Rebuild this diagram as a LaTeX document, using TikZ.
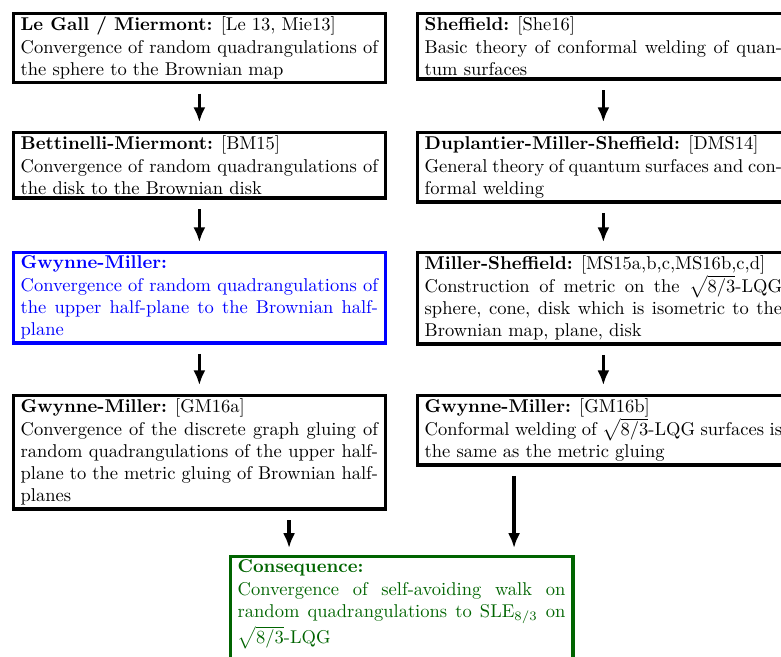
\documentclass[tikz,border=0pt]{standalone}
\usetikzlibrary{arrows.meta,calc}
\definecolor{dgreen}{RGB}{0,100,0}
\definecolor{bblue}{RGB}{0,0,255}
\begin{document}
\begin{tikzpicture}[x=0.54pt,y=-0.54pt,
  box/.style={draw,line width=1.9pt,anchor=north west,text width=193pt,
    inner xsep=4pt,inner ysep=2pt,align=justify},
  arr/.style={line width=1.7pt,-{Latex[length=8pt,width=6.5pt]}}]
\useasboundingbox (0,0) rectangle (781,657);
\clip (0,0) rectangle (781,657);

\node[box] (a1) at (11.5,11.5) {\textbf{Le Gall / Miermont:} [Le 13, Mie13]\\Convergence of random quadrangulations of the sphere to the Brownian map};
\node[box] (a2) at (11.5,130.5) {\textbf{Bettinelli-Miermont:} [BM15]\\Convergence of random quadrangulations of the disk to the Brownian disk};
\node[box,draw=bblue,text=bblue] (a3) at (11.5,250.5) {\textbf{Gwynne-Miller:}\\Convergence of random quadrangulations of the upper half-plane to the Brownian half-plane};
\node[box] (a4) at (11.5,393.5) {\textbf{Gwynne-Miller:} [GM16a]\\Convergence of the discrete graph gluing of random quadrangulations of the upper half-plane to the metric gluing of Brownian half-planes};

\node[box] (b1) at (415.5,11.5) {\textbf{Sheffield:} [She16]\\Basic theory of conformal welding of quantum surfaces};
\node[box] (b2) at (415.5,130.5) {\textbf{Duplantier-Miller-Sheffield:} [DMS14]\\General theory of quantum surfaces and conformal welding};
\node[box] (b3) at (415.5,250.5) {\textbf{Miller-Sheffield:} [MS15a,b,c,MS16b,c,d]\\Construction of metric on the $\sqrt{8/3}$-LQG sphere, cone, disk which is isometric to the Brownian map, plane, disk};
\node[box] (b4) at (415.5,393.5) {\textbf{Gwynne-Miller:} [GM16b]\\Conformal welding of $\sqrt{8/3}$-LQG surfaces is the same as the metric gluing};

\node[box,draw=dgreen,text=dgreen,text width=177pt] (cons) at (228.5,554.5) {\textbf{Consequence:}\\Convergence of self-avoiding walk on random quadrangulations to SLE$_{8/3}$ on $\sqrt{8/3}$-LQG\\[40pt]};

\draw[arr] ($(a1.south)+(0pt,-5pt)$) -- ($(a2.north)+(0pt,4.5pt)$);
\draw[arr] ($(a2.south)+(0pt,-5pt)$) -- ($(a3.north)+(0pt,4.5pt)$);
\draw[arr] ($(a3.south)+(0pt,-5pt)$) -- ($(a4.north)+(0pt,4.5pt)$);
\draw[arr] ($(b1.south)+(0pt,-5pt)$) -- ($(b2.north)+(0pt,4.5pt)$);
\draw[arr] ($(b2.south)+(0pt,-5pt)$) -- ($(b3.north)+(0pt,4.5pt)$);
\draw[arr] ($(b3.south)+(0pt,-5pt)$) -- ($(b4.north)+(0pt,4.5pt)$);

\coordinate (cl) at ($(cons.north)+(-60.75pt,0pt)$);
\coordinate (cr) at ($(cons.north)+(60.75pt,0pt)$);
\draw[arr] ($(cl |- a4.south)+(0pt,-5pt)$) -- ($(cl)+(0pt,3.5pt)$);
\draw[arr] ($(cr |- b4.south)+(0pt,-5pt)$) -- ($(cr)+(0pt,3.5pt)$);
\end{tikzpicture}
\end{document}
